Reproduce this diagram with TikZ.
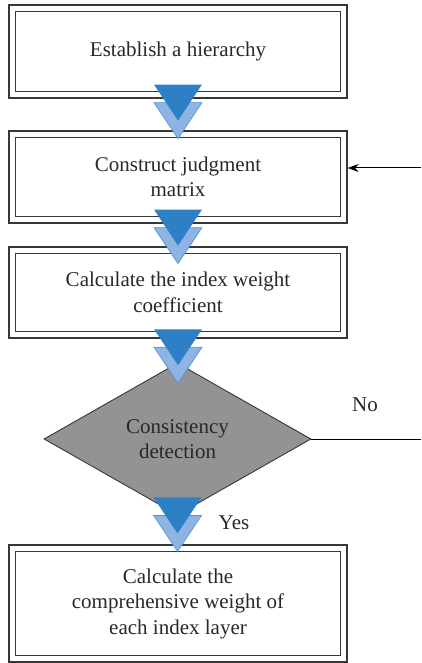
\documentclass[tikz,border=0pt]{standalone}
\usepackage{fontspec}
\setmainfont{Liberation Serif}
\usetikzlibrary{arrows.meta,calc,shapes.geometric}

\definecolor{framegray}{RGB}{55,55,55}
\definecolor{textgray}{RGB}{40,40,40}
\definecolor{diamondgray}{RGB}{147,147,147}
\definecolor{arrowdark}{RGB}{46,128,198}
\definecolor{arrowlight}{RGB}{141,180,226}
\definecolor{arrowedge}{RGB}{80,145,210}

\tikzset{
  flowtext/.style={font=\fontsize{21}{25.5}\selectfont, text=textgray, align=center},
  stepbox/.style={flowtext, rectangle, draw=framegray, line width=1.2pt,
    double=white, double distance=5.5pt, minimum width=331.3pt, inner sep=0pt},
  decision/.style={flowtext, diamond, draw=framegray, fill=diamondgray, line width=0.9pt,
    aspect=1.757, minimum width=267pt, minimum height=152pt, inner sep=0pt},
  edgelabel/.style={font=\fontsize{21}{25.5}\selectfont, text=textgray},
  feedback/.style={line width=1pt, black},
  pics/blockarrow/.style={code={
    \filldraw[fill=arrowlight, draw=arrowedge, line width=0.6pt]
      (-24,18) -- (24,18) -- (0,54) -- cycle;
    \fill[arrowdark] (-24,0) -- (24,0) -- (0,36) -- cycle;
  }}
}

\begin{document}
\begin{tikzpicture}[x=1pt, y=-1pt]
  \useasboundingbox (0,0) rectangle (421,663);

  % process steps
  \node[stepbox, minimum height=86.3pt] (b1) at (178,51.5) {Establish a hierarchy};
  \node[stepbox, minimum height=85.3pt] (b2) at (178,177) {Construct judgment\\matrix};
  \node[stepbox, minimum height=84.3pt] (b3) at (178,292.5) {Calculate the index weight\\coefficient};
  \node[decision] (d) at (177.5,439) {Consistency\\detection};
  \node[stepbox, minimum height=110.3pt] (b5) at (178,603.5) {Calculate the\\comprehensive weight of\\each index layer};

  % block arrows between the steps
  \pic at ($(b1.south)+(0,-10.65)$) {blockarrow};
  \pic at ($(b2.south)+(0,-10.65)$) {blockarrow};
  \pic at ($(b3.south)+(0,-6)$) {blockarrow};
  \pic at ($(d.south)+(0,-18)$) {blockarrow};

  % loop back when the check fails
  \coordinate (noend) at (421,439);
  \coordinate (backin) at (421,168);
  \draw[feedback] (d.east) -- (noend);
  \draw[feedback, -{Stealth[length=11pt, width=8pt]}, shorten >=3.4pt]
    (backin) -- (backin -| b2.east);

  \node[edgelabel] (no) at (365,405) {No};
  \node[edgelabel] (yes) at (234,523) {Yes};
\end{tikzpicture}
\end{document}
